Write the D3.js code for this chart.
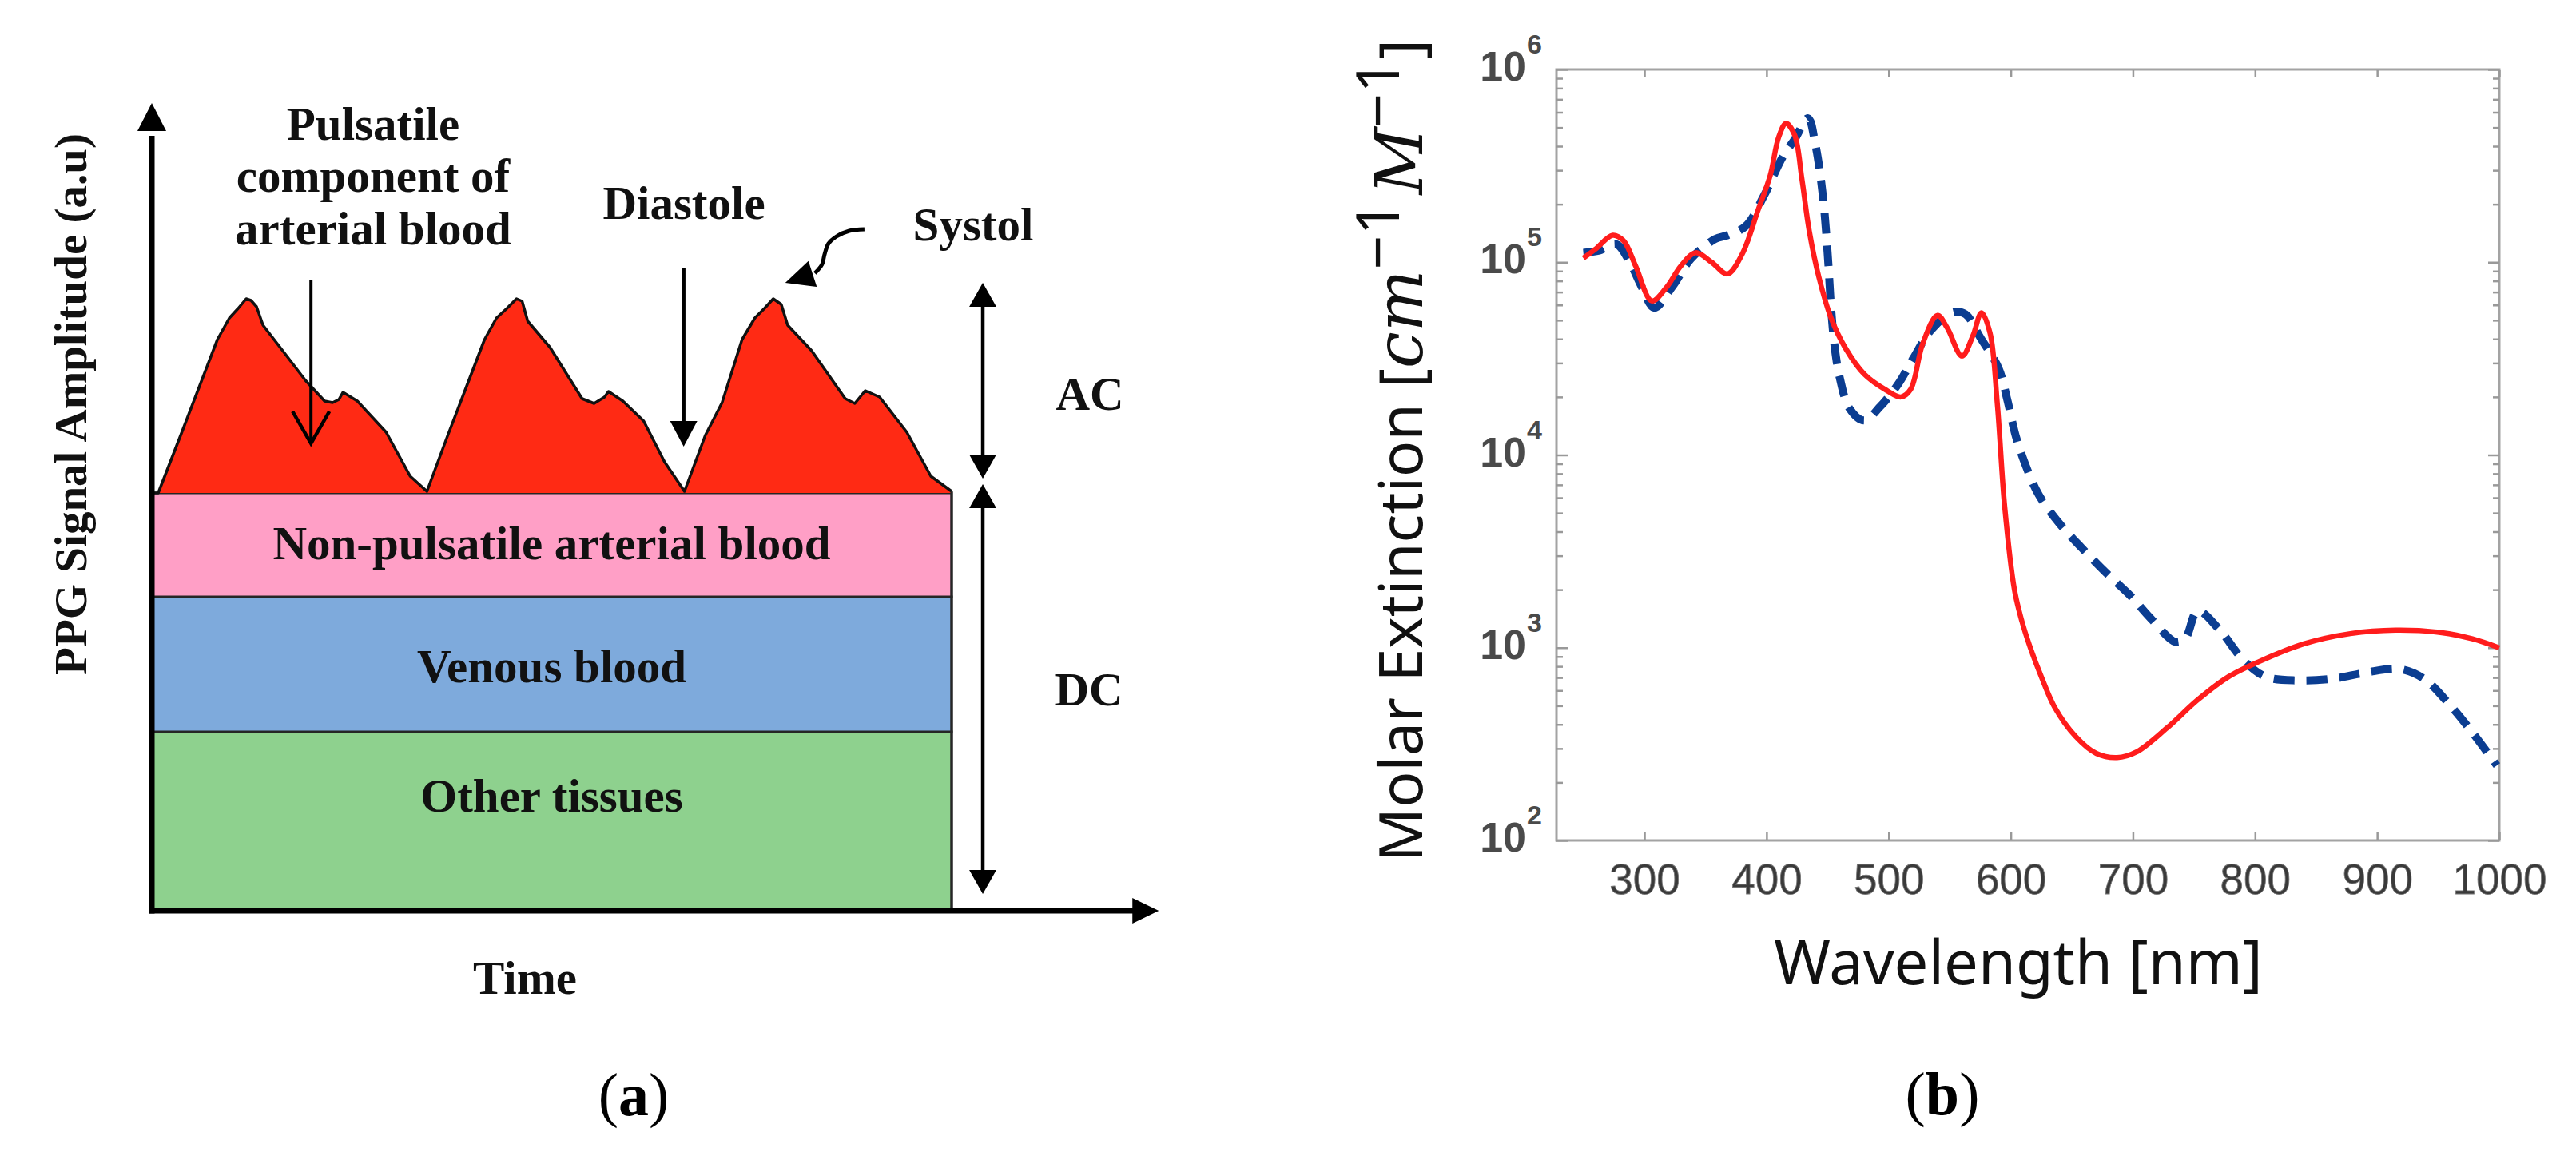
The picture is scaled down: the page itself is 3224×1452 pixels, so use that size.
<!DOCTYPE html>
<html>
<head>
<meta charset="utf-8">
<script src="https://cdn.jsdelivr.net/npm/d3@7"></script>
<style>
  body { margin: 0; background: #fff; }
  svg { display: block; }
</style>
</head>
<body>
<svg id="fig" width="3224" height="1452"></svg>
<script>
// ---------------- panel (a): PPG signal components ----------------
const layerNames = ['Other tissues', 'Venous blood', 'Non-pulsatile arterial blood']
const layerTops = [22.4, 39.3, 52.3]          // a.u., stacked from the time axis
const layerColors = ['#8ed18e', '#7eaadc', '#ff9fc6']

// pulsatile (AC) waveform, three beats
const pulseTime = [0.8, 3.6, 5.9, 8.2, 9.7, 10.8, 11.8, 12.4, 13.1, 13.9, 16.9, 19.2, 21.6, 22.6, 23.4, 23.9, 25.7, 29.3, 32.3, 34.4,
    37.0, 39.3, 41.6, 43.1, 44.4, 45.6, 46.3, 47.0, 49.8, 53.8, 55.3, 56.6, 57.1, 58.9, 61.5, 64.1, 66.6,
    69.2, 71.3, 73.8, 75.4, 76.6, 77.7, 78.7, 79.5, 82.5, 86.7, 87.9, 89.2, 91.0, 94.4, 97.4, 100]
const pulseAmp = [52.3, 59.5, 65.5, 71.5, 74.2, 75.4, 76.6, 76.4, 75.6, 73.3, 69.4, 66.4, 63.8, 63.6, 64.0, 64.9, 63.8, 59.9, 54.4, 52.5,
    59.5, 65.5, 71.5, 74.2, 75.4, 76.6, 76.3, 73.8, 70.5, 64.1, 63.5, 64.3, 65.0, 63.8, 61.3, 56.2, 52.5,
    59.5, 63.6, 71.5, 74.2, 75.4, 76.6, 75.9, 73.3, 70.1, 64.1, 63.5, 65.1, 64.3, 59.9, 54.4, 52.5]

// ---------------- panel (b): haemoglobin molar extinction ----------------
const wavelengthTicks = [300, 400, 500, 600, 700, 800, 900, 1000]
const extinctionExponents = [2, 3, 4, 5, 6]

// red solid line (HbO2)
const hbo2Wavelength = [250, 260, 274, 283, 293, 306, 318, 330, 342, 355, 368, 380, 393, 403, 410, 416, 423, 429, 435, 443, 453, 465, 480, 498,
    510, 518, 528, 540, 548, 560, 569, 576, 583, 589, 595, 603, 609, 616, 625, 636, 653, 670, 687, 703, 728, 753, 778, 803, 840, 878, 915, 953, 978, 1000]
const hbo2Extinction = [105000, 117000, 138000, 129000, 95000, 63000, 74000, 96000, 112000, 100000, 87000, 110000, 186000, 282000, 447000, 525000,
    457000, 269000, 145000, 83000, 51000, 35500, 26300, 21700, 20000, 21900, 38000, 53000, 45600, 32600, 41600, 54700, 42900, 18300, 5400, 2000,
    1380, 1000, 708, 490, 347, 283, 269, 288, 384, 536, 705, 845, 1047, 1183, 1233, 1197, 1111, 998]

// blue dashed line (Hb)
const hbWavelength = [250, 263, 277, 288, 298, 308, 323, 338, 358, 368, 383, 398, 413, 423, 434, 440, 446, 450, 453, 456, 460, 468, 480, 493,
    508, 520, 535, 553, 563, 575, 590, 597, 604, 612, 623, 640, 658, 678, 698, 715, 735, 743, 753, 770, 790, 808, 835, 865, 890, 918, 938, 960, 978, 998]
const hbExtinction = [112000, 115000, 124000, 100000, 74000, 58000, 75000, 104000, 132000, 138000, 154000, 222000, 350000, 434000, 558000, 407000,
    224000, 112000, 56000, 35500, 25100, 17400, 15100, 17800, 23400, 31600, 44700, 55000, 53700, 40700, 28200, 19500, 12600, 8900, 6200, 4400,
    3300, 2450, 1860, 1410, 1070, 1120, 1550, 1260, 870, 710, 676, 692, 741, 776, 692, 501, 363, 245]

const svg = d3.select('#fig')
const serif = 'Liberation Serif, Times New Roman, serif'
const sans = 'Liberation Sans, Arial, sans-serif'

function arrowHead(tip, from, len, half) {
    let dx = tip[0] - from[0], dy = tip[1] - from[1]
    let n = Math.sqrt(dx * dx + dy * dy)
    let ux = dx / n, uy = dy / n
    let bx = tip[0] - ux * len, by = tip[1] - uy * len
    return [[tip[0], tip[1]], [bx - uy * half, by + ux * half], [bx + uy * half, by - ux * half]]
}
function drawHead(g, tip, from, len, half) {
    g.append('path')
        .attr('d', d3.line()(arrowHead(tip, from, len, half)) + 'Z')
        .attr('fill', '#000')
}

// ===== panel (a) =====
const xa = d3.scaleLinear().domain([0, 100]).range([190, 1191])
const ya = d3.scaleLinear().domain([0, 100]).range([1140, 140])
const ga = svg.append('g')

let bottoms = [0].concat(layerTops.slice(0, -1))
ga.selectAll('rect.layer')
    .data(layerTops)
    .join('rect')
    .attr('class', 'layer')
    .attr('x', xa(0))
    .attr('width', xa(100) - xa(0))
    .attr('y', d => ya(d))
    .attr('height', (d, i) => ya(bottoms[i]) - ya(d))
    .attr('fill', (d, i) => layerColors[i])
    .attr('stroke', '#262626')
    .attr('stroke-width', 3)

// label baselines inside each band (a.u.)
const labelAt = [12.4, 28.6, 44.0]
ga.selectAll('text.layer')
    .data(layerNames)
    .join('text')
    .attr('class', 'layer')
    .attr('x', xa(50))
    .attr('y', (d, i) => ya(labelAt[i]))
    .attr('text-anchor', 'middle')
    .attr('font-family', serif)
    .attr('font-weight', 'bold')
    .attr('font-size', 59)
    .attr('fill', '#111')
    .text(d => d)

let pulse = pulseTime.map((t, i) => [t, pulseAmp[i]])
let base = layerTops[layerTops.length - 1]
ga.append('path')
    .datum(pulse)
    .attr('d', d3.area().x(d => xa(d[0])).y0(ya(base)).y1(d => ya(d[1])))
    .attr('fill', '#ff2a14')
ga.append('path')
    .datum([[0, base]].concat(pulse))
    .attr('d', d3.line().x(d => xa(d[0])).y(d => ya(d[1])))
    .attr('fill', 'none')
    .attr('stroke', '#111')
    .attr('stroke-width', 3.5)
    .attr('stroke-linejoin', 'round')
ga.append('line')
    .attr('x1', xa(100)).attr('x2', xa(100))
    .attr('y1', ya(base) - 2).attr('y2', ya(0))
    .attr('stroke', '#262626').attr('stroke-width', 3)

// axes with arrow heads
ga.append('line')
    .attr('x1', xa(0)).attr('x2', xa(0))
    .attr('y1', ya(-0.35)).attr('y2', ya(97))
    .attr('stroke', '#000').attr('stroke-width', 7)
drawHead(ga, [xa(0), ya(101.1)], [xa(0), ya(0)], 35, 18)
ga.append('line')
    .attr('x1', xa(0) - 3.5).attr('x2', xa(123))
    .attr('y1', ya(0)).attr('y2', ya(0))
    .attr('stroke', '#000').attr('stroke-width', 7)
drawHead(ga, [xa(125.9), ya(0)], [xa(0), ya(0)], 33, 16)

ga.append('text')
    .attr('transform', `translate(108,${ya(63.4)}) rotate(-90)`)
    .attr('text-anchor', 'middle')
    .attr('font-family', serif).attr('font-weight', 'bold').attr('font-size', 57)
    .attr('fill', '#111')
    .text('PPG Signal Amplitude (a.u)')
ga.append('text')
    .attr('x', 657).attr('y', 1244)
    .attr('text-anchor', 'middle')
    .attr('font-family', serif).attr('font-weight', 'bold').attr('font-size', 59)
    .attr('fill', '#111')
    .text('Time')

// annotations
const noteFont = g => g.attr('text-anchor', 'middle').attr('font-family', serif)
    .attr('font-weight', 'bold').attr('font-size', 59).attr('fill', '#111')
let pul = ga.append('text').call(noteFont).attr('x', 467)
;['Pulsatile', 'component of', 'arterial blood'].forEach((s, i) => {
    pul.append('tspan').attr('x', 467).attr('y', [175, 240, 306][i]).text(s)
})
ga.append('text').call(noteFont).attr('x', 856).attr('y', 274).text('Diastole')
ga.append('text').call(noteFont).attr('x', 1218).attr('y', 301).text('Systol')
ga.append('text').call(noteFont).attr('x', 1364).attr('y', 513).text('AC')
ga.append('text').call(noteFont).attr('x', 1363).attr('y', 883).text('DC')

// pulsatile arrow (open head)
let px = xa(19.9)
ga.append('line').attr('x1', px).attr('x2', px).attr('y1', ya(78.9)).attr('y2', ya(58.6))
    .attr('stroke', '#000').attr('stroke-width', 4)
ga.append('path')
    .attr('d', d3.line()([[px - 23, ya(62.5)], [px, ya(58.5)], [px + 23, ya(62.5)]]))
    .attr('fill', 'none').attr('stroke', '#000').attr('stroke-width', 4.5)

// diastole arrow
let dxp = xa(66.5)
ga.append('line').attr('x1', dxp).attr('x2', dxp).attr('y1', ya(80.5)).attr('y2', ya(61))
    .attr('stroke', '#000').attr('stroke-width', 4.5)
drawHead(ga, [dxp, ya(58.1)], [dxp, ya(80)], 32, 17)

// systol curved arrow
const systolPath = [[89.1, 85.3], [87.2, 85.1], [85.6, 84.4], [84.6, 83.5], [84.1, 82.1], [83.8, 80.9], [82.9, 79.8]]
ga.append('path')
    .datum(systolPath)
    .attr('d', d3.line().x(d => xa(d[0])).y(d => ya(d[1])).curve(d3.curveCatmullRom))
    .attr('fill', 'none').attr('stroke', '#000').attr('stroke-width', 5)
drawHead(ga, [xa(79.2), ya(78.6)], [xa(83.2), ya(79.9)], 36, 17)

// AC / DC double arrows
let ax = xa(103.9)
;[[78.6, 54.1], [53.4, 2.1]].forEach(r => {
    ga.append('line').attr('x1', ax).attr('x2', ax)
        .attr('y1', ya(r[0]) + 20).attr('y2', ya(r[1]) - 20)
        .attr('stroke', '#000').attr('stroke-width', 4.5)
    drawHead(ga, [ax, ya(r[0])], [ax, ya(r[1])], 30, 17)
    drawHead(ga, [ax, ya(r[1])], [ax, ya(r[0])], 30, 17)
})

let la = ga.append('text').attr('x', 793).attr('y', 1396)
    .attr('text-anchor', 'middle').attr('font-family', serif).attr('font-size', 76).attr('fill', '#000')
la.append('tspan').text('(')
la.append('tspan').attr('font-weight', 'bold').text('a')
la.append('tspan').text(')')

// ===== panel (b) =====
const xb = d3.scaleLinear().domain([228, 1000]).range([1948, 3128])
const yb = d3.scaleLog().domain([1e2, 1e6]).range([1052, 87])
const gb = svg.append('g')

gb.append('rect')
    .attr('x', xb(228)).attr('y', yb(1e6))
    .attr('width', xb(1000) - xb(228)).attr('height', yb(1e2) - yb(1e6))
    .attr('fill', '#fff').attr('stroke', '#a3a3a3').attr('stroke-width', 3)

let allTicks = yb.ticks()
let isMajor = v => Math.abs(Math.log10(v) - Math.round(Math.log10(v))) < 1e-6
;[[d3.axisLeft, xb(228)], [d3.axisRight, xb(1000)]].forEach(a => {
    gb.append('g')
        .attr('transform', `translate(${a[1]},0)`)
        .call(a[0](yb).tickValues(allTicks.filter(v => !isMajor(v))).tickSize(-8).tickFormat(''))
        .call(g => g.select('.domain').remove())
        .call(g => g.selectAll('line').attr('stroke', '#999').attr('stroke-width', 2.5))
    gb.append('g')
        .attr('transform', `translate(${a[1]},0)`)
        .call(a[0](yb).tickValues(extinctionExponents.map(e => Math.pow(10, e))).tickSize(-14).tickFormat(''))
        .call(g => g.select('.domain').remove())
        .call(g => g.selectAll('line').attr('stroke', '#999').attr('stroke-width', 2.5))
})

gb.append('g')
    .attr('transform', `translate(0,${yb(1e2)})`)
    .call(d3.axisBottom(xb).tickValues(wavelengthTicks).tickFormat(d3.format('d'))
        .tickSizeInner(-10).tickSizeOuter(0).tickPadding(29))
    .call(g => g.select('.domain').remove())
    .call(g => g.selectAll('line').attr('stroke', '#999').attr('stroke-width', 2.5))
    .call(g => g.selectAll('text')
        .attr('font-family', sans).attr('font-size', 53)
        .attr('fill', '#3a3a3a').attr('stroke', '#777').attr('stroke-width', 0.8))
gb.append('g')
    .attr('transform', `translate(0,${yb(1e6)})`)
    .call(d3.axisTop(xb).tickValues(wavelengthTicks).tickSizeInner(-10).tickSizeOuter(0).tickFormat(''))
    .call(g => g.select('.domain').remove())
    .call(g => g.selectAll('line').attr('stroke', '#999').attr('stroke-width', 2.5))

// y tick labels as 10^n
extinctionExponents.forEach(e => {
    let yy = yb(Math.pow(10, e))
    gb.append('text')
        .attr('x', 1910).attr('y', yy + 14)
        .attr('text-anchor', 'end')
        .attr('font-family', sans).attr('font-weight', 'bold').attr('font-size', 52)
        .attr('fill', '#4a4a4a')
        .text('10')
    gb.append('text')
        .attr('x', 1911).attr('y', yy - 20)
        .attr('font-family', sans).attr('font-weight', 'bold').attr('font-size', 34)
        .attr('fill', '#4a4a4a')
        .text(e)
})

const spectrum = d3.line()
    .x(d => xb(d[0]))
    .y(d => yb(d[1]))
    .curve(d3.curveCatmullRom.alpha(0.5))

gb.append('path')
    .datum(hbWavelength.map((w, i) => [w, hbExtinction[i]]))
    .attr('d', spectrum)
    .attr('fill', 'none')
    .attr('stroke', '#0b3d91')
    .attr('stroke-width', 10)
    .attr('stroke-dasharray', '26,15')
gb.append('path')
    .datum(hbo2Wavelength.map((w, i) => [w, hbo2Extinction[i]]))
    .attr('d', spectrum)
    .attr('fill', 'none')
    .attr('stroke', '#ff1c1c')
    .attr('stroke-width', 6.5)
    .attr('stroke-linejoin', 'round')

// axis titles
gb.append('text')
    .attr('x', (xb(228) + xb(1000)) / 2 - 12).attr('y', 1232)
    .attr('text-anchor', 'middle')
    .attr('font-family', 'Noto Sans, sans-serif').attr('font-size', 76)
    .attr('fill', '#111')
    .text('Wavelength [nm]')

let yt = gb.append('text')
    .attr('transform', 'translate(1780,564) rotate(-90)')
    .attr('text-anchor', 'middle')
    .attr('font-family', 'Noto Sans, sans-serif').attr('font-size', 75)
    .attr('fill', '#111')
yt.append('tspan').text('Molar Extinction [')
yt.append('tspan').attr('font-family', 'DejaVu Serif, serif').attr('font-style', 'italic').attr('font-size', 82).text('cm')
yt.append('tspan').attr('dy', -29).text('\u22121')
yt.append('tspan').attr('dy', 29).attr('dx', 8).attr('font-family', 'DejaVu Serif, serif').attr('font-style', 'italic').attr('font-size', 82).text('M')
yt.append('tspan').attr('dy', -29).text('\u22121')
yt.append('tspan').attr('dy', 29).text(']')

let lb = gb.append('text').attr('x', 2431).attr('y', 1395)
    .attr('text-anchor', 'middle').attr('font-family', serif).attr('font-size', 76).attr('fill', '#000')
lb.append('tspan').text('(')
lb.append('tspan').attr('font-weight', 'bold').text('b')
lb.append('tspan').text(')')
</script>
</body>
</html>
